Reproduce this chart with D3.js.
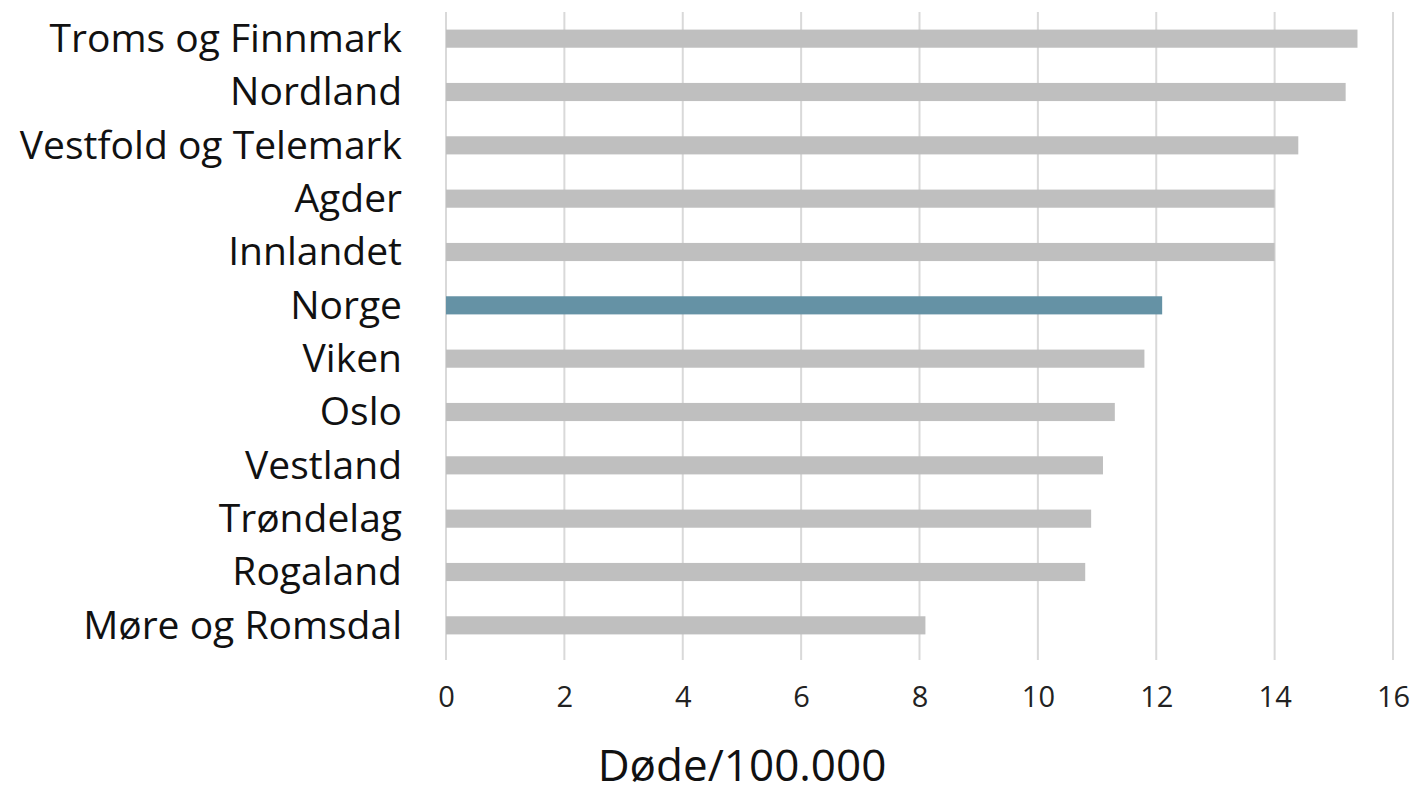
<!DOCTYPE html>
<html>
<head>
<meta charset="utf-8">
<script src="https://cdn.jsdelivr.net/npm/d3@7"></script>
<style>
  body { margin: 0; background: #fff; }
  svg { display: block; font-family: "Open Sans", sans-serif; }
</style>
</head>
<body>
<svg id="chart" width="1419" height="794"></svg>
<script>
// fylker, sortert etter dødsrate
const regions = ["Troms og Finnmark", "Nordland", "Vestfold og Telemark", "Agder", "Innlandet",
  "Norge", "Viken", "Oslo", "Vestland", "Trøndelag", "Rogaland", "Møre og Romsdal"];
const rates = [15.4, 15.2, 14.4, 14.0, 14.0, 12.1, 11.8, 11.3, 11.1, 10.9, 10.8, 8.1];
const xTicks = [0, 2, 4, 6, 8, 10, 12, 14, 16];
const xTitle = "Døde/100.000";
const highlight = "Norge";

const svg = d3.select("#chart");
const plotLeft = 446, plotRight = 1393, plotTop = 12, plotBottom = 652;

const x = d3.scaleLinear().domain([0, 16]).range([plotLeft, plotRight]);
const y = d3.scaleBand().domain(regions).range([plotTop, plotBottom]).paddingInner(0.66).paddingOuter(0.33);

// gridlines
svg.append("g")
  .selectAll("line")
  .data(xTicks)
  .join("line")
  .attr("x1", d => x(d)).attr("x2", d => x(d))
  .attr("y1", plotTop).attr("y2", plotBottom + 8)
  .attr("stroke", "#d9d9d9")
  .attr("stroke-width", 2);

// bars
svg.append("g")
  .selectAll("rect")
  .data(regions)
  .join("rect")
  .attr("x", x(0))
  .attr("y", d => y(d))
  .attr("height", y.bandwidth())
  .attr("width", (d, i) => x(rates[i]) - x(0))
  .attr("fill", d => d === highlight ? "#6592a5" : "#bfbfbf");

// category labels
svg.append("g")
  .selectAll("text")
  .data(regions)
  .join("text")
  .attr("x", 402)
  .attr("y", d => y(d) + y.bandwidth() / 2)
  .attr("dy", "0.34em")
  .attr("text-anchor", "end")
  .attr("font-size", 39)
  .attr("fill", "#111")
  .text(d => d);

// x axis tick labels
const xAxis = d3.axisBottom(x).tickValues(xTicks).tickSize(0).tickPadding(0);
const gx = svg.append("g").attr("transform", `translate(0, 707)`).call(xAxis);
gx.select(".domain").remove();
gx.selectAll("text")
  .attr("dy", null)
  .attr("font-size", 29)
  .attr("font-family", "'Open Sans', sans-serif")
  .attr("fill", "#222");

// axis title
svg.append("text")
  .attr("x", 742)
  .attr("y", 781)
  .attr("text-anchor", "middle")
  .attr("font-size", 44)
  .attr("fill", "#111")
  .text(xTitle);
</script>
</body>
</html>
